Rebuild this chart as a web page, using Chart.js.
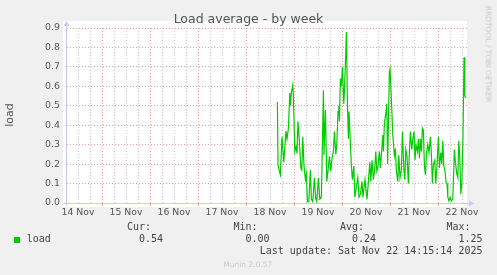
<!DOCTYPE html>
<html>
<head>
<meta charset="utf-8">
<script src="https://cdn.jsdelivr.net/npm/chart.js@4"></script>
<style>
body { margin: 0; background: #f0f0f0; }
#wrap { position: relative; width: 497px; height: 275px; overflow: hidden; }
#chart { position: absolute; left: 0; top: 0; }
.txt { position: absolute; white-space: nowrap; line-height: 1; }
.sans { font-family: "DejaVu Sans", sans-serif; }
.mono { font-family: "DejaVu Sans Mono", monospace; font-size: 10px; color: #444; }
</style>
</head>
<body>
<div id="wrap">
  <canvas id="chart" width="497" height="275"></canvas>
  <div class="txt sans" style="left:0;width:497px;text-align:center;top:12.5px;font-size:12.5px;color:#555">Load average - by week</div>
  <div class="txt sans" style="left:8.5px;top:115px;font-size:11px;color:#555;transform:translate(-50%,-50%) rotate(-90deg)">load</div>
  <div class="txt sans" style="left:488px;top:53.5px;font-size:7.5px;color:#c8c8c8;transform:translate(-50%,-50%) rotate(90deg)">RRDTOOL / TOBI OETIKER</div>
  <div id="legend"></div>
  <div class="txt sans" style="left:223.3px;top:261px;font-size:7.5px;color:#c8c8c8">Munin 2.0.57</div>
</div>
<script>
// hours since 14 Nov 00:00
const dayLabels = ["14 Nov", "15 Nov", "16 Nov", "17 Nov", "18 Nov", "19 Nov", "20 Nov", "21 Nov", "22 Nov"];

const hours = [
  111.7, 112.0, 113.2, 114.0, 114.9, 116.0, 116.5, 117.2, 117.9, 118.2,
  118.7, 119.4, 119.7, 120.4, 121.0, 121.5, 122.0, 122.7, 123.4, 123.9,
  124.4, 125.0, 125.7, 126.2, 126.7, 127.4, 128.2, 128.7, 129.4, 130.2,
  130.9, 131.4, 132.2, 132.9, 133.7, 134.7, 135.0, 135.7, 136.4, 137.0,
  137.7, 138.4, 139.0, 139.7, 140.2, 140.9, 141.4, 142.0, 142.4, 142.7,
  143.2, 143.7, 144.2, 144.9, 145.2, 145.7, 146.2, 146.7, 147.2, 147.5,
  148.0, 148.7, 149.2, 149.9, 150.4, 151.9, 152.5, 153.2, 154.0, 154.5,
  155.0, 155.5, 156.0, 156.5, 157.2, 157.9, 158.4, 159.0, 159.7, 160.4,
  160.9, 161.4, 162.0, 162.7, 163.2, 163.7, 164.4, 164.7, 165.2, 165.9,
  166.4, 166.8, 167.7, 168.0, 168.7, 169.4, 170.2, 170.7, 171.2, 171.9,
  172.4, 173.0, 173.7, 174.2, 174.9, 175.4, 175.9, 176.5, 177.2, 177.7,
  178.2, 178.9, 179.4, 180.0, 180.5, 181.0, 181.7, 182.2, 182.7, 183.2,
  183.7, 184.2, 184.7, 185.2, 185.7, 186.2, 186.9, 187.5, 188.2, 188.7,
  189.2, 189.7, 190.4, 190.9, 191.5, 192.2, 192.7, 193.4, 193.9, 194.4,
  194.9, 195.5, 196.0, 196.5, 196.9, 197.5, 198.0, 198.7, 199.4, 199.9,
  200.2, 200.7, 201.4, 201.9, 202.4, 202.9, 203.4, 203.9, 204.5, 205.0,
  205.4, 206.0
];

const load = [
  0.52, 0.195, 0.145, 0.34, 0.21, 0.37, 0.33, 0.385, 0.565, 0.50,
  0.57, 0.607, 0.55, 0.265, 0.29, 0.255, 0.42, 0.32, 0.18, 0.17,
  0.34, 0.19, 0.12, 0.15, 0.007, 0.007, 0.17, 0.02, 0.007, 0.13,
  0.02, 0.007, 0.13, 0.02, 0.03, 0.58, 0.247, 0.48, 0.11, 0.165,
  0.24, 0.165, 0.23, 0.265, 0.367, 0.25, 0.30, 0.47, 0.50, 0.42,
  0.64, 0.60, 0.70, 0.51, 0.57, 0.72, 0.88, 0.52, 0.33, 0.47,
  0.35, 0.19, 0.12, 0.19, 0.03, 0.13, 0.03, 0.045, 0.11, 0.03,
  0.08, 0.12, 0.065, 0.02, 0.11, 0.21, 0.11, 0.22, 0.12, 0.18,
  0.265, 0.165, 0.19, 0.265, 0.18, 0.25, 0.35, 0.265, 0.41, 0.46,
  0.51, 0.20, 0.675, 0.69, 0.53, 0.35, 0.245, 0.28, 0.165, 0.11,
  0.245, 0.13, 0.17, 0.367, 0.18, 0.12, 0.275, 0.24, 0.10, 0.265,
  0.367, 0.275, 0.33, 0.367, 0.22, 0.30, 0.265, 0.33, 0.23, 0.33,
  0.265, 0.385, 0.375, 0.19, 0.145, 0.25, 0.30, 0.26, 0.34, 0.25,
  0.10, 0.20, 0.22, 0.10, 0.19, 0.34, 0.18, 0.26, 0.20, 0.32,
  0.19, 0.165, 0.11, 0.10, 0.03, 0.01, 0.03, 0.01, 0.02, 0.18,
  0.275, 0.21, 0.15, 0.13, 0.32, 0.23, 0.045, 0.10, 0.35, 0.75,
  0.55, 0.54
];

const statLabels = ["Cur:", "Min:", "Avg:", "Max:"];
const statValues = ["0.54", "0.00", "0.24", "1.25"];
const lastUpdate = "Last update: Sat Nov 22 14:15:14 2025";

const majorGrid = "rgba(225,90,90,0.6)";
const minorGrid = "rgba(0,0,0,0.22)";

// ---------------- LEGEND ----------------
function buildLegend() {
    const box = document.getElementById("legend");
    let html = '<div style="position:absolute;left:14px;top:237px;width:6px;height:6px;background:#00cc00"></div>';
    html += '<div class="txt mono" style="left:26.7px;top:234px">load</div>';
    const rightEdges = [163, 269.5, 376, 482.5];
    statLabels.forEach((l, i) => {
        const r = 497 - rightEdges[i];
        html += `<div class="txt mono" style="right:${r + 12}px;top:222.2px">${l}</div>`;
        html += `<div class="txt mono" style="right:${r}px;top:234px">${statValues[i]}</div>`;
    });
    html += `<div class="txt mono" style="right:${497 - 482.5}px;top:245.8px">${lastUpdate}</div>`;
    box.innerHTML = html;
}

// ---------------- PLUGINS ----------------
const plotBg = {
    id: "plotBg",
    beforeDraw(chart) {
        const { ctx, chartArea: a } = chart;
        ctx.save();
        ctx.fillStyle = "#ffffff";
        ctx.fillRect(a.left - 4, a.top - 7, a.right - a.left + 4, a.bottom - a.top + 11);
        ctx.restore();
    }
};

const axisArrows = {
    id: "axisArrows",
    afterDatasetsDraw(chart) {
        const { ctx, chartArea: a } = chart;
        ctx.save();
        ctx.strokeStyle = "#c8c8f5";
        ctx.fillStyle = "#c8c8f5";
        ctx.lineWidth = 1;
        ctx.beginPath();
        ctx.moveTo(a.left - 0.5, a.bottom + 3);
        ctx.lineTo(a.left - 0.5, a.top - 3);
        ctx.moveTo(a.left - 3, a.bottom + 0.5);
        ctx.lineTo(a.right + 2, a.bottom + 0.5);
        ctx.stroke();
        ctx.beginPath();
        ctx.moveTo(a.left - 0.5, a.top - 7);
        ctx.lineTo(a.left - 3.5, a.top - 2);
        ctx.lineTo(a.left + 2.5, a.top - 2);
        ctx.fill();
        ctx.beginPath();
        ctx.moveTo(a.right + 7, a.bottom + 0.5);
        ctx.lineTo(a.right + 2, a.bottom - 2.5);
        ctx.lineTo(a.right + 2, a.bottom + 3.5);
        ctx.fill();
        ctx.restore();
    }
};

// ---------------- CHART ----------------
function initChart() {
    const ctx = document.getElementById("chart").getContext("2d");
    const points = hours.map((h, i) => ({ x: h, y: load[i] }));

    new Chart(ctx, {
        type: "line",
        data: {
            datasets: [{
                data: points,
                borderColor: "#00cc00",
                borderWidth: 1.2,
                pointRadius: 0,
                tension: 0
            }]
        },
        options: {
            responsive: false,
            animation: false,
            layout: { padding: { left: 0, right: 30, top: 28, bottom: 0 } },
            plugins: { legend: { display: false }, tooltip: { enabled: false } },
            scales: {
                x: {
                    type: "linear",
                    min: 6.5,
                    max: 206.5,
                    afterBuildTicks: s => {
                        const t = [];
                        for (let h = 12; h <= s.max; h += 6) t.push({ value: h });
                        s.ticks = t;
                    },
                    afterFit: s => { s.height = 72; },
                    grid: {
                        color: c => (c.tick && c.tick.value % 24 === 0) ? majorGrid : minorGrid,
                        lineWidth: 1,
                        tickLength: 3,
                        tickColor: c => (c.tick && c.tick.value % 24 === 0) ? majorGrid : "rgba(0,0,0,0)"
                    },
                    border: { display: false, dash: [1, 2] },
                    ticks: {
                        autoSkip: false,
                        maxRotation: 0,
                        padding: 1,
                        color: "#555",
                        font: { family: "DejaVu Sans", size: 9.3 },
                        callback: v => v % 24 === 12 ? dayLabels[(v - 12) / 24] : ""
                    }
                },
                y: {
                    min: 0,
                    max: 0.9,
                    afterFit: s => { s.width = 67; },
                    grid: {
                        color: c => (c.tick && Math.round(c.tick.value * 100) % 10 === 0) ? majorGrid : minorGrid,
                        lineWidth: 1,
                        drawTicks: false
                    },
                    border: { display: false, dash: [1, 2] },
                    ticks: {
                        stepSize: 0.05,
                        padding: 7,
                        color: "#555",
                        font: { family: "DejaVu Sans", size: 9.4 },
                        callback: v => Math.round(v * 100) % 10 === 0 ? v.toFixed(1) : ""
                    }
                }
            }
        },
        plugins: [plotBg, axisArrows]
    });
}

buildLegend();
initChart();
</script>
</body>
</html>
